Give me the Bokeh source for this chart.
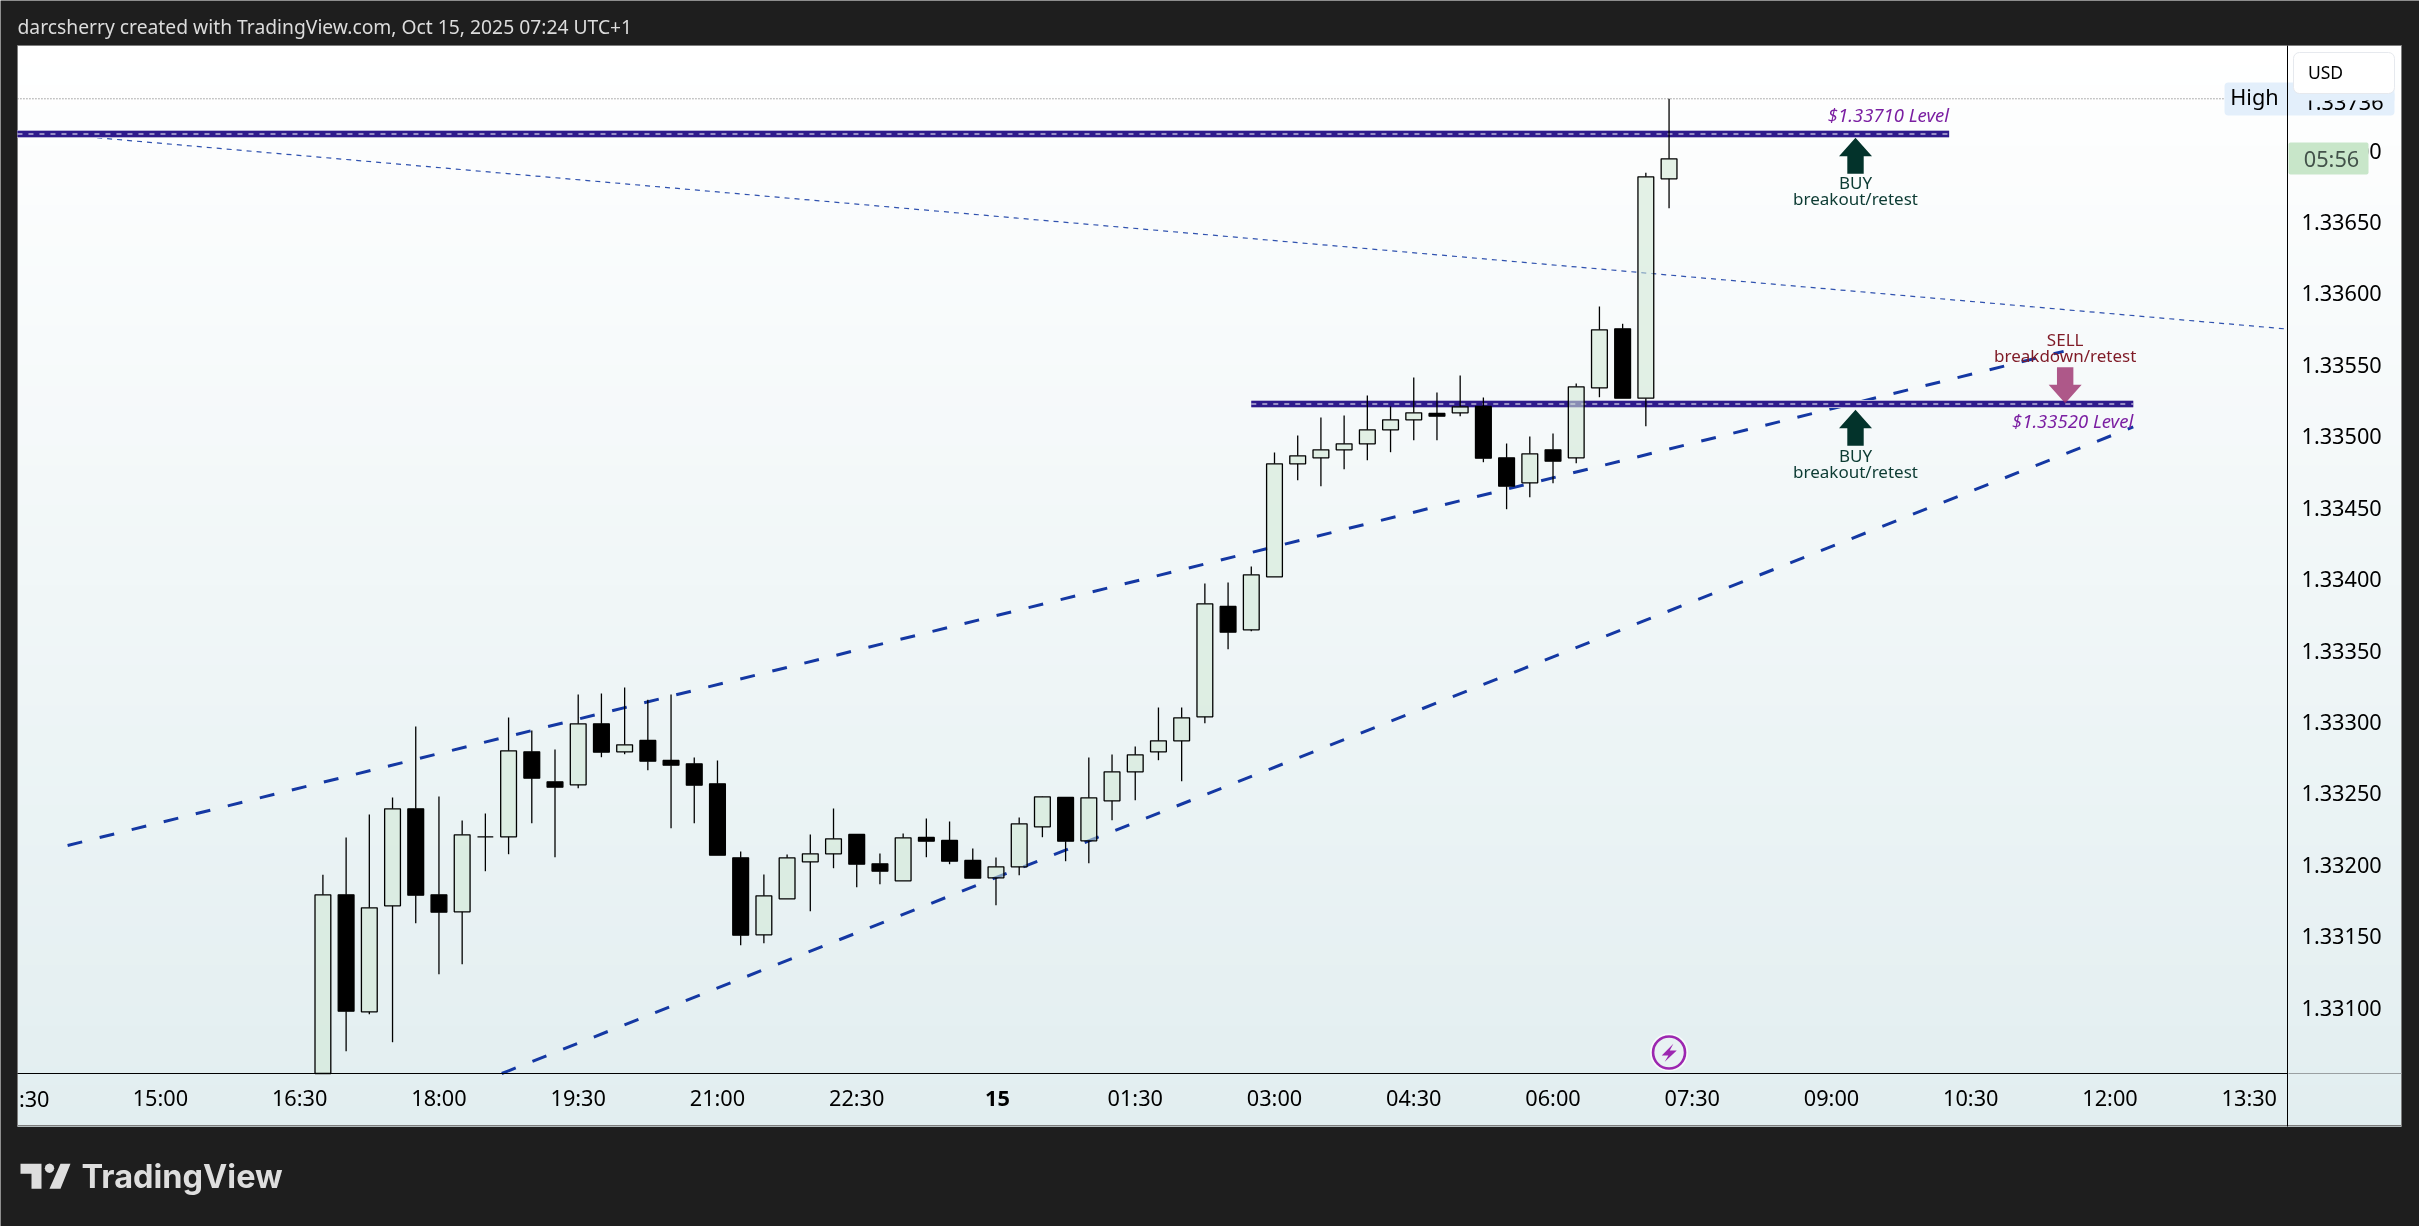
import numpy as np
import pandas as pd
from bokeh.core.properties import value
from bokeh.embed import file_html
from bokeh.models import (BoxAnnotation, DatetimeTickFormatter, FixedTicker, Label,
                          NumeralTickFormatter, PolyAnnotation, Range1d)
from bokeh.plotting import figure
from bokeh.resources import INLINE

FONT = "Noto Sans"

# 15 minute candles
first_bar = "2025-10-14 16:45"
opens = [1.330539, 1.331790, 1.330971, 1.331713, 1.332392, 1.331790, 1.331671, 1.332196, 1.332196, 1.332791,
         1.332581, 1.332560, 1.332987, 1.332791, 1.332870, 1.332730, 1.332707, 1.332567, 1.332049, 1.331510,
         1.331762, 1.332021, 1.332077, 1.332212, 1.332007, 1.331888, 1.332191, 1.332170, 1.332030, 1.331909,
         1.331986, 1.332266, 1.332471, 1.332168, 1.332448, 1.332651, 1.332791, 1.332868, 1.333036, 1.333808,
         1.333645, 1.334016, 1.334807, 1.334849, 1.334905, 1.334947, 1.335045, 1.335115, 1.335159, 1.335164,
         1.335208, 1.334849, 1.334674, 1.334905, 1.334849, 1.335339, 1.335752, 1.335266, 1.336802]
highs = [1.331930, 1.332191, 1.332352, 1.332471, 1.332968, 1.332478, 1.332310, 1.332359, 1.333031, 1.332940,
         1.332807, 1.333192, 1.333199, 1.333241, 1.333155, 1.333192, 1.332751, 1.332730, 1.332093, 1.331932,
         1.332072, 1.332212, 1.332394, 1.332212, 1.332079, 1.332219, 1.332324, 1.332303, 1.332114, 1.332051,
         1.332331, 1.332478, 1.332471, 1.332751, 1.332772, 1.332828, 1.333101, 1.333101, 1.333969, 1.333976,
         1.334088, 1.334886, 1.335005, 1.335131, 1.335145, 1.335285, 1.335208, 1.335411, 1.335306, 1.335425,
         1.335271, 1.334949, 1.334998, 1.335019, 1.335369, 1.335908, 1.335787, 1.336844, 1.337362]
lows = [1.330539, 1.330695, 1.330954, 1.330758, 1.331591, 1.331234, 1.331304, 1.331955, 1.332074, 1.332291,
        1.332053, 1.332536, 1.332753, 1.332774, 1.332662, 1.332256, 1.332291, 1.332067, 1.331437, 1.331451,
        1.331762, 1.331675, 1.331976, 1.331843, 1.331864, 1.331888, 1.332053, 1.332004, 1.331906, 1.331717,
        1.331927, 1.332193, 1.332025, 1.332011, 1.332312, 1.332452, 1.332732, 1.332585, 1.332991, 1.333509,
        1.333635, 1.334016, 1.334692, 1.334650, 1.334769, 1.334832, 1.334888, 1.334972, 1.334972, 1.335140,
        1.334818, 1.334489, 1.334573, 1.334671, 1.334811, 1.335273, 1.335266, 1.335070, 1.336596]
closes = [1.331790, 1.330975, 1.331699, 1.332392, 1.331787, 1.331668, 1.332210, 1.332196, 1.332798, 1.332606,
          1.332543, 1.332987, 1.332788, 1.332840, 1.332725, 1.332697, 1.332557, 1.332067, 1.331507, 1.331783,
          1.332049, 1.332077, 1.332182, 1.332004, 1.331955, 1.332189, 1.332165, 1.332025, 1.331906, 1.331986,
          1.332287, 1.332476, 1.332165, 1.332469, 1.332651, 1.332770, 1.332868, 1.333029, 1.333827, 1.333628,
          1.334030, 1.334807, 1.334863, 1.334905, 1.334947, 1.335045, 1.335115, 1.335164, 1.335140, 1.335206,
          1.334846, 1.334650, 1.334877, 1.334825, 1.335346, 1.335745, 1.335266, 1.336816, 1.336942]

# price axis
price_ticks = [1.331, 1.3315, 1.332, 1.3325, 1.333, 1.3335, 1.334, 1.3345, 1.335, 1.3355, 1.336, 1.3365, 1.337]

# time axis
time_ticks = ["2025-10-14 13:30", "2025-10-14 15:00", "2025-10-14 16:30", "2025-10-14 18:00", "2025-10-14 19:30",
              "2025-10-14 21:00", "2025-10-14 22:30", "2025-10-15 00:00", "2025-10-15 01:30", "2025-10-15 03:00",
              "2025-10-15 04:30", "2025-10-15 06:00", "2025-10-15 07:30", "2025-10-15 09:00", "2025-10-15 10:30",
              "2025-10-15 12:00", "2025-10-15 13:30"]

# drawings on the chart
chart_start = "2025-10-14 13:27:36"
chart_end = "2025-10-15 13:54:42"
chart_bottom = 1.330539
upper_channel_t = ["2025-10-14 14:00", "2025-10-15 11:30"]
upper_channel_p = [1.332135, 1.335594]
lower_channel_t = ["2025-10-14 18:40:36", "2025-10-15 12:15"]
lower_channel_p = [1.330539, 1.335065]
thin_line_t = [chart_start, chart_end]
thin_line_p = [1.337138, 1.335750]
level_top_t = [chart_start, "2025-10-15 10:16"]
level_top_p = 1.3371155
level_low_t = ["2025-10-15 02:45", "2025-10-15 12:15"]
level_low_p = 1.3352255
high_line_t = [chart_start, "2025-10-15 13:14"]


def ms(t):
    return pd.Timestamp(t).value / 10**6


# chart scale: 1.5473 px per minute, 0.000007 per px
ms_per_px = 60000 / 1.5473
price_per_px = 0.000007

opens, highs, lows, closes = map(np.array, (opens, highs, lows, closes))
times = np.array([ms(t) for t in pd.date_range(first_bar, periods=len(opens), freq="15min")])
body_top = np.maximum(opens, closes)
body_bot = np.minimum(opens, closes)
up = closes >= opens

# the frame fills the whole page, so the axes sit inside it at fixed places
p = figure(
    width=2419, height=1226,
    x_axis_type="datetime", y_axis_location="right",
    x_range=Range1d(ms("2025-10-14 13:16:38"), ms("2025-10-15 15:20:00")),
    y_range=Range1d(1.329468, 1.33805),
    min_border=0,
    output_backend="svg", toolbar_location=None,
    border_fill_color="#1e1e1e", background_fill_color="#1e1e1e", outline_line_color=None,
)
p.styles = {"position": "fixed", "left": "0", "top": "0"}
p.grid.visible = False

# background gradient of the chart box, top white, bottom pale teal
band_h = 20
box_top, box_bottom, box_left, box_right = 45, 1126, 17, 2401
for y0 in range(box_top, box_bottom, band_h):
    f = (y0 + band_h / 2 - box_top) / (box_bottom - box_top)
    col = "#%02x%02x%02x" % (round(255 - 29 * f), round(255 - 17 * f), round(255 - 15 * f))
    p.add_layout(BoxAnnotation(left=box_left, right=box_right, top=y0, bottom=min(y0 + band_h + 1, box_bottom),
                               left_units="canvas", right_units="canvas", top_units="canvas", bottom_units="canvas",
                               fill_color=col, fill_alpha=1, line_alpha=0, level="underlay"))


def canvas_box(l, r, t, b, fill, line=None, radius=0, level="annotation", width=1):
    p.add_layout(BoxAnnotation(left=l, right=r, top=t, bottom=b, left_units="canvas", right_units="canvas",
                               top_units="canvas", bottom_units="canvas", fill_color=fill, fill_alpha=1,
                               line_color=line, line_width=width, line_alpha=1 if line else 0,
                               border_radius=radius, level=level))


def canvas_text(x, y, text, size, color="#000000", align="center", style="normal", font=FONT):
    p.add_layout(Label(x=x, y=y, x_units="canvas", y_units="canvas", text=text, text_font=font,
                       text_font_size=size, text_color=color, text_align=align, text_baseline="middle",
                       text_font_style=style))


canvas_box(box_left, box_right, box_top, box_bottom - 1, None, line="#7d7d7d", level="underlay")
canvas_box(2224, 2394, 82, 115, "#e3effb", radius=4, level="underlay")

# axes
p.xaxis.ticker = FixedTicker(ticks=[ms(t) for t in time_ticks])
fmt = "%H:%M"
p.xaxis.formatter = DatetimeTickFormatter(minutes=fmt, hourmin=fmt, hours=fmt, days=fmt, months=fmt, years=fmt)
p.xaxis.major_label_overrides = {ms(time_ticks[0]): "", ms("2025-10-15 00:00"): ""}
p.xaxis.fixed_location = chart_bottom
p.xaxis.bounds = (ms(chart_start), ms("2025-10-15 13:54:42"))
p.yaxis.ticker = FixedTicker(ticks=price_ticks)
p.yaxis.formatter = NumeralTickFormatter(format="0.00000")
p.yaxis.fixed_location = ms(chart_end)
p.yaxis.bounds = (1.330168, 1.337735)
for ax in (p.xaxis, p.yaxis):
    ax.axis_line_color = "#000000"
    ax.major_tick_line_color = None
    ax.minor_tick_line_color = None
    ax.major_label_text_font = FONT
    ax.major_label_text_font_size = "21.7px"
    ax.major_label_text_color = "#000000"
p.xaxis.major_label_standoff = 3
p.yaxis.major_label_standoff = 8

# high line
high_max = highs.max()
p.line([ms(t) for t in high_line_t], [high_max, high_max], line_color="#666666", line_width=1, line_dash="1 2")

# trend lines
p.line([ms(t) for t in thin_line_t], thin_line_p, line_color="#1a3fa6", line_width=1.2, line_alpha=0.9, line_dash="5 5")
p.line([ms(t) for t in upper_channel_t], upper_channel_p, line_color="#1438a3", line_width=3, line_dash="15 18")
p.line([ms(t) for t in lower_channel_t], lower_channel_p, line_color="#1438a3", line_width=3, line_dash="15 18")

# level bands
for band_t, band_p in ((level_top_t, level_top_p), (level_low_t, level_low_p)):
    bx = [ms(t) for t in band_t]
    p.line(bx, [band_p, band_p], line_color="#b9b4d6", line_width=8)
    p.line(bx, [band_p, band_p], line_color="#2e1a8c", line_width=6)
    p.line(bx, [band_p, band_p], line_color="#ffffff", line_width=1, line_dash="5 6")

# candles
body_w = 15.8 * ms_per_px
p.segment(times, highs, times, body_top, line_color="#000000", line_width=1.3)
p.segment(times, body_bot, times, lows, line_color="#000000", line_width=1.3)
p.vbar(times[up], body_w, body_bot[up], body_top[up], fill_color="#d1e8d5", fill_alpha=0.56,
       line_color="#000000", line_width=1.3)
p.vbar(times[~up], body_w, body_bot[~up], body_top[~up], fill_color="#000000", line_color="#000000", line_width=1.3)


def arrow(t, tip, d, color, alpha=1.0):
    xs = ms(t) + np.array([0, 16.5, 8.2, 8.2, -8.2, -8.2, -16.5]) * ms_per_px
    ys = tip - d * np.array([0, 18.5, 18.5, 36, 36, 18.5, 18.5]) * price_per_px
    p.patch(xs, ys, fill_color=color, fill_alpha=alpha, line_color=None)


buy_t = "2025-10-15 09:15:30"
sell_t = "2025-10-15 11:31"
arrow(buy_t, 1.337089, 1, "#03332b")
arrow(buy_t, 1.335185, 1, "#03332b")
arrow(sell_t, 1.335231, -1, "#9c2f6d", 0.8)


def chart_text(t, price, text, color, size="17px", align="center", style="normal"):
    p.text([ms(t)], [price], text=[text], text_font=value(FONT), text_font_size=size, text_color=color,
           text_align=align, text_baseline="middle", text_font_style=style)


chart_text(buy_t, 1.336779, "BUY", "#0c3b33")
chart_text(buy_t, 1.336667, "breakout/retest", "#0c3b33")
chart_text(buy_t, 1.334868, "BUY", "#0c3b33")
chart_text(buy_t, 1.334751, "breakout/retest", "#0c3b33")
chart_text(sell_t, 1.335675, "SELL", "#7f1a26")
chart_text(sell_t, 1.335563, "breakdown/retest", "#7f1a26")
chart_text(level_top_t[1], 1.337255, "$1.33710 Level", "#7b1fa2", size="18.5px", align="right", style="italic")
chart_text(level_low_t[1], 1.335113, "$1.33520 Level", "#7b1fa2", size="18.5px", align="right", style="italic")

# lightning icon under the last bar
icon_t = "2025-10-15 07:15"
icon_p = 1.330686
p.scatter([ms(icon_t)], [icon_p], size=38, marker="circle", fill_color="#ffffff", fill_alpha=0.7, line_color=None)
p.scatter([ms(icon_t)], [icon_p], size=32, marker="circle", fill_color="#e8f1f3", line_color="#9c27b0", line_width=2.6)
bolt_x = np.array([4.3, -7.3, -0.7, -4.3, 7.7, 0.7])
bolt_y = np.array([8.7, -3, -3, -9.3, 2, 2])
p.patch(ms(icon_t) + bolt_x * ms_per_px, icon_p + bolt_y * price_per_px, fill_color="#9c27b0", line_color=None)

# things on top of the axes
canvas_box(2288, box_right, 1072.5, 1073.5, "#9aa0a2")
canvas_box(2288, 2368, 142, 174, "#c8e6c9", radius=2)
canvas_text(2331, 158, "05:56", "21.7px", color="#43524a")
canvas_text(2254, 96, "High", "21.7px")
canvas_text(2343, 101, "1.33736", "21.7px")
canvas_box(2293, 2394, 93, 100, "#e3effb")
canvas_box(2293, 2394, 52, 93, "#ffffff", line="#e6e9ee", radius=6)
canvas_text(2325, 71, "USD", "17.5px")
canvas_text(997, 1098, "15", "21.7px", style="bold")
canvas_text(49, 1098, ":30", "21.7px", align="right")

# header and footer
canvas_text(17, 26, "darcsherry created with TradingView.com, Oct 15, 2025 07:24 UTC+1", "19.3px", color="#dcdcdc", align="left")
canvas_text(81, 1176, "TradingView", "32.5px", color="#dedede", align="left", style="bold", font="Inter")
logo_col = "#dedede"
for lx, ly in (([20, 41, 41, 31, 31, 20], [1163.3, 1163.3, 1188.3, 1188.3, 1173.3, 1173.3]),
               ([60, 70, 60, 49], [1163.3, 1163.3, 1188.3, 1188.3])):
    p.add_layout(PolyAnnotation(xs=lx, ys=ly, xs_units="canvas", ys_units="canvas", fill_color=logo_col,
                                fill_alpha=1, line_alpha=0))
ang = np.arange(0, 360, 30) * np.pi / 180
p.add_layout(PolyAnnotation(xs=list(49 + 4.7 * np.cos(ang)), ys=list(1167.7 + 4.7 * np.sin(ang)), xs_units="canvas",
                            ys_units="canvas", fill_color=logo_col, fill_alpha=1, line_alpha=0))

open("out.html", "w").write(file_html(p, INLINE))
